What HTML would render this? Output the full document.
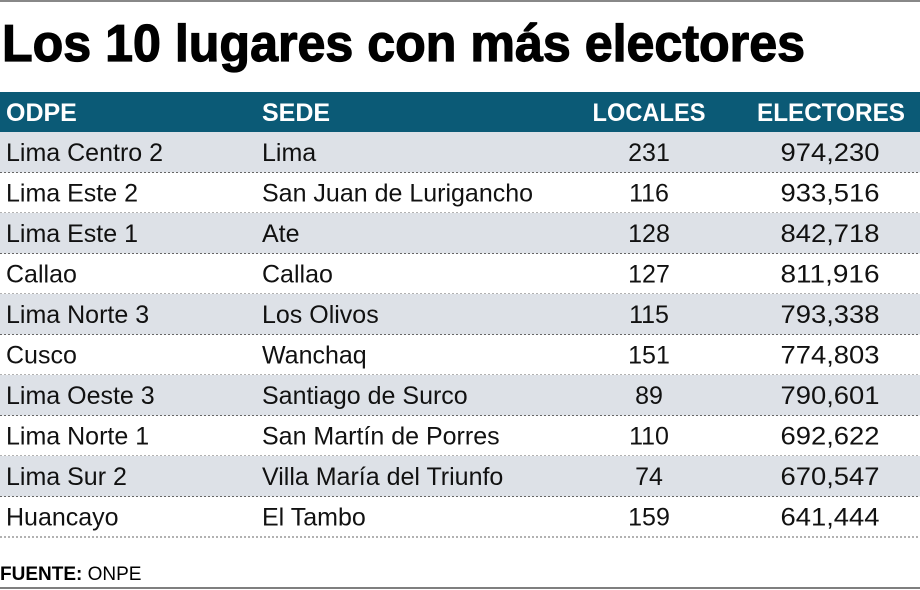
<!DOCTYPE html>
<html><head><meta charset="utf-8"><style>
html,body{margin:0;padding:0;background:#fff;}
svg{display:block;font-family:"Liberation Sans",sans-serif;}
</style></head><body>
<svg width="920" height="590" viewBox="0 0 920 590">
<line x1="0" y1="1" x2="920" y2="1" stroke="#888" stroke-width="2"/>
<text x="2" y="61" font-size="52" font-weight="bold" textLength="803" lengthAdjust="spacingAndGlyphs" fill="#000" stroke="#000" stroke-width="1.2">Los 10 lugares con más electores</text>
<rect x="0" y="92" width="920" height="40" fill="#0b5a76"/>
<g font-size="25" font-weight="bold" fill="#fff">
<text x="6" y="121">ODPE</text>
<text x="262" y="121">SEDE</text>
<text x="649" y="121" text-anchor="middle" textLength="113" lengthAdjust="spacingAndGlyphs">LOCALES</text>
<text x="831" y="121" text-anchor="middle" textLength="148" lengthAdjust="spacingAndGlyphs">ELECTORES</text>
</g>
<g id="rows"></g>
<text x="0" y="580" font-size="19" fill="#000"><tspan font-weight="bold">FUENTE:</tspan> ONPE</text>
<line x1="0" y1="588" x2="920" y2="588" stroke="#555" stroke-width="1.5"/>
</svg>
<script>
const odpe=["Lima Centro 2","Lima Este 2","Lima Este 1","Callao","Lima Norte 3","Cusco","Lima Oeste 3","Lima Norte 1","Lima Sur 2","Huancayo"];
const sede=["Lima","San Juan de Lurigancho","Ate","Callao","Los Olivos","Wanchaq","Santiago de Surco","San Martín de Porres","Villa María del Triunfo","El Tambo"];
const locales=["231","116","128","127","115","151","89","110","74","159"];
const electores=["974,230","933,516","842,718","811,916","793,338","774,803","790,601","692,622","670,547","641,444"];
const NS="http://www.w3.org/2000/svg";
const g=document.getElementById('rows');
const rowH=40.5, top0=132;
function mk(tag,attrs,txt){const e=document.createElementNS(NS,tag);for(const k in attrs)e.setAttribute(k,attrs[k]);if(txt!==undefined)e.textContent=txt;g.appendChild(e);return e;}
for(let i=0;i<odpe.length;i++){
  const y=top0+i*rowH;
  if(i%2===0){
    const r=mk('rect',{x:0,y:y,width:920,height:rowH,fill:'#dde1e7'});
    
    
  }
  const l=mk('line',{x1:0,y1:y+rowH,x2:920,y2:y+rowH,stroke:'#666','stroke-width':1,'stroke-dasharray':'2,2'});
  
  
  const by=y+29;
  const a=mk('text',{x:6,y:by,'font-size':25,fill:'#111'},odpe[i]);
  
  
  const b=mk('text',{x:262,y:by,'font-size':25,fill:'#111'},sede[i]);
  
  
  const c=mk('text',{x:649,y:by,'font-size':25,fill:'#111','text-anchor':'middle'},locales[i]);
  
  
  const d=mk('text',{x:830,y:by,'font-size':25,fill:'#111','text-anchor':'middle',textLength:99,lengthAdjust:'spacingAndGlyphs'},electores[i]);
  
  
}
</script>
</body></html>
